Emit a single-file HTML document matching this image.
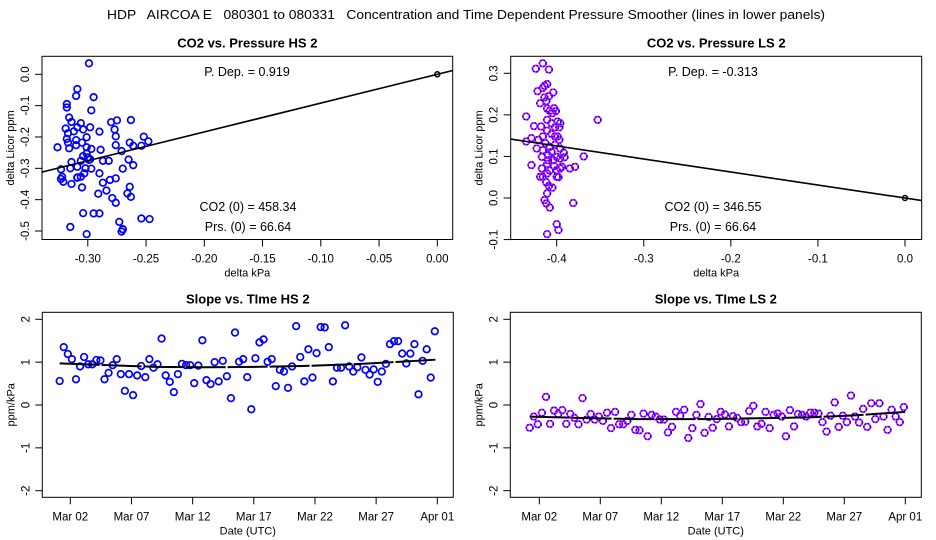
<!DOCTYPE html>
<html><head><meta charset="utf-8"><style>
body{margin:0;background:#fff}
svg{display:block;font-family:"Liberation Sans",sans-serif}
</style></head><body>
<svg id="c" width="936" height="540" viewBox="0 0 936 540" xmlns="http://www.w3.org/2000/svg">
<rect width="936" height="540" fill="#fff"/>
<text x="466" y="19" font-size="13" text-anchor="middle" style="white-space:pre" xml:space="preserve" textLength="718" lengthAdjust="spacingAndGlyphs">HDP   AIRCOA E   080301 to 080331   Concentration and Time Dependent Pressure Smoother (lines in lower panels)</text>
</svg>
<script>
// ---- data ----
const hsX=[-0.299,-0.309,-0.310,-0.295,-0.318,-0.318,-0.297,-0.316,-0.314,-0.306,-0.280,-0.275,-0.263,-0.319,-0.312,-0.309,-0.304,-0.298,-0.290,-0.277,-0.276,-0.318,-0.317,-0.310,-0.301,-0.305,-0.316,-0.310,-0.326,-0.301,-0.297,-0.276,-0.271,-0.264,-0.261,-0.252,-0.248,-0.254,-0.304,-0.300,-0.299,-0.298,-0.306,-0.314,-0.309,-0.315,-0.323,-0.302,-0.297,-0.287,-0.282,-0.265,-0.270,-0.261,-0.322,-0.323,-0.321,-0.309,-0.306,-0.303,-0.305,-0.290,-0.287,-0.281,-0.276,-0.314,-0.284,-0.291,-0.264,-0.266,-0.263,-0.279,-0.276,-0.304,-0.295,-0.290,-0.273,-0.270,-0.271,-0.270,-0.254,-0.247,-0.315,-0.301,-0.301,-0.309,-0.317,-0.289];
const hsY=[0.035,-0.047,-0.069,-0.073,-0.095,-0.106,-0.115,-0.138,-0.152,-0.156,-0.153,-0.147,-0.146,-0.173,-0.182,-0.169,-0.176,-0.169,-0.183,-0.176,-0.198,-0.206,-0.218,-0.210,-0.201,-0.218,-0.236,-0.226,-0.233,-0.233,-0.238,-0.226,-0.245,-0.218,-0.228,-0.199,-0.214,-0.228,-0.261,-0.265,-0.273,-0.271,-0.276,-0.280,-0.295,-0.300,-0.303,-0.300,-0.301,-0.276,-0.276,-0.272,-0.301,-0.290,-0.327,-0.334,-0.343,-0.330,-0.327,-0.316,-0.361,-0.316,-0.346,-0.337,-0.332,-0.350,-0.371,-0.381,-0.359,-0.380,-0.391,-0.395,-0.410,-0.443,-0.444,-0.444,-0.471,-0.495,-0.502,-0.494,-0.460,-0.462,-0.487,-0.510,-0.252,-0.329,-0.188,-0.241];
const lsX=[-0.416,-0.424,-0.409,-0.422,-0.416,-0.414,-0.411,-0.404,-0.414,-0.419,-0.412,-0.409,-0.411,-0.408,-0.405,-0.403,-0.401,-0.435,-0.353,-0.426,-0.418,-0.411,-0.406,-0.399,-0.396,-0.397,-0.402,-0.411,-0.416,-0.406,-0.399,-0.397,-0.423,-0.416,-0.408,-0.402,-0.392,-0.435,-0.429,-0.417,-0.410,-0.400,-0.396,-0.391,-0.369,-0.417,-0.411,-0.403,-0.400,-0.396,-0.394,-0.408,-0.416,-0.419,-0.429,-0.379,-0.385,-0.411,-0.400,-0.398,-0.412,-0.409,-0.405,-0.411,-0.414,-0.412,-0.408,-0.381,-0.400,-0.398,-0.411,-0.404,-0.413,-0.402,-0.406,-0.396,-0.421,-0.410];
const lsY=[0.324,0.311,0.309,0.257,0.265,0.270,0.274,0.254,0.242,0.228,0.233,0.245,0.215,0.210,0.204,0.216,0.209,0.196,0.188,0.173,0.172,0.188,0.180,0.184,0.180,0.170,0.170,0.162,0.148,0.154,0.148,0.140,0.119,0.115,0.123,0.128,0.109,0.136,0.144,0.099,0.103,0.099,0.095,0.098,0.100,0.071,0.082,0.077,0.067,0.071,0.075,0.066,0.051,0.051,0.079,0.075,0.071,0.059,0.051,0.050,0.038,0.029,0.025,0.011,-0.005,-0.013,-0.023,-0.012,-0.063,-0.077,-0.087,0.091,0.132,0.148,0.111,0.119,0.140,0.091];
const hsPDep=0.919, lsPDep=-0.313;
const hsSlope=[0.56,1.35,1.19,1.07,0.60,0.90,1.12,0.95,0.95,1.05,1.04,0.60,0.75,0.93,1.07,0.72,0.33,0.72,0.23,0.69,0.91,0.65,1.07,0.87,0.95,1.55,0.69,0.54,0.30,0.72,0.96,0.93,0.93,0.51,0.92,1.51,0.58,0.49,1.00,0.55,1.03,0.67,0.16,1.69,1.01,1.07,0.65,-0.10,1.09,1.46,1.53,1.01,1.07,0.44,0.82,0.78,0.40,0.90,1.84,1.12,0.55,1.30,0.64,1.21,1.82,1.81,1.35,0.55,0.87,0.87,1.86,0.90,0.78,0.88,1.11,0.82,0.71,0.83,0.54,0.78,0.96,1.42,1.49,1.49,1.20,0.97,1.20,1.42,0.25,1.03,1.30,0.64,1.72];
const lsSlope=[-0.53,-0.27,-0.45,-0.18,0.19,-0.44,-0.13,-0.21,-0.12,-0.44,-0.21,-0.30,-0.45,0.16,-0.34,-0.21,-0.34,-0.27,-0.37,-0.18,-0.54,-0.16,-0.45,-0.45,-0.37,-0.23,-0.58,-0.59,-0.20,-0.73,-0.23,-0.27,-0.34,-0.34,-0.64,-0.51,-0.16,-0.25,-0.11,-0.77,-0.54,-0.23,0.02,-0.65,-0.28,-0.53,-0.33,-0.16,-0.22,-0.50,-0.26,-0.30,-0.40,-0.39,-0.14,-0.02,-0.50,-0.44,-0.16,-0.54,-0.23,-0.20,-0.27,-0.73,-0.12,-0.50,-0.21,-0.23,-0.27,-0.18,-0.18,-0.20,-0.40,-0.62,-0.25,0.06,-0.51,-0.25,-0.40,0.22,-0.27,-0.41,-0.09,-0.51,0.04,-0.33,0.04,-0.27,-0.58,-0.11,-0.27,-0.40,-0.05];
const hsStart=1.13, lsStart=1.21, sampleStep=1/3;
const hsSmDays=[1.13,5,9,13,17,21,25,29,32];
const hsSmVals=[0.97,0.93,0.89,0.88,0.89,0.91,0.95,1.01,1.06];
const lsSmDays=[1.21,5,10,15,20,24,28,32];
const lsSmVals=[-0.27,-0.30,-0.33,-0.33,-0.31,-0.29,-0.24,-0.16];
const hsXTicks=[-0.30,-0.25,-0.20,-0.15,-0.10,-0.05,0.00];
const hsXTickLabels=["-0.30","-0.25","-0.20","-0.15","-0.10","-0.05","0.00"];
const hsYTicks=[0,-0.1,-0.2,-0.3,-0.4,-0.5];
const hsYTickLabels=["0.0","-0.1","-0.2","-0.3","-0.4","-0.5"];
const lsXTicks=[-0.4,-0.3,-0.2,-0.1,0.0];
const lsXTickLabels=["-0.4","-0.3","-0.2","-0.1","0.0"];
const lsYTicks=[0.3,0.2,0.1,0,-0.1];
const lsYTickLabels=["0.3","0.2","0.1","0.0","-0.1"];
const dateTicks=[2,7,12,17,22,27,32];
const dateTickLabels=["Mar 02","Mar 07","Mar 12","Mar 17","Mar 22","Mar 27","Apr 01"];
const slopeTicks=[2,1,0,-1,-2];
const slopeTickLabels=["2","1","0","-1","-2"];

const NS="http://www.w3.org/2000/svg", svg=document.getElementById('c');
function mk(tag,at,parent){const e=document.createElementNS(NS,tag);for(const k in at)e.setAttribute(k,at[k]);(parent||svg).appendChild(e);return e;}
function lin(d0,d1,p0,p1){return v=>p0+(v-d0)*(p1-p0)/(d1-d0);}

function panel(o){
  const g=mk('g',{});
  
  
  const b=mk('rect',{x:o.l,y:o.t,width:o.r-o.l,height:o.b-o.t,fill:'none',stroke:'#000','stroke-width':1},g);
  
  const t=mk('text',{x:(o.l+o.r)/2,y:o.t-9,'font-size':13,'font-weight':'bold','text-anchor':'middle'},g);t.textContent=o.title;
  
  o.xt.forEach((v,i)=>{const x=o.sx(v);
    mk('line',{x1:x,x2:x,y1:o.b,y2:o.b+7,stroke:'#000'},g);
    const l=mk('text',{x:x,y:o.b+23,'font-size':11.5,'text-anchor':'middle'},g);l.textContent=o.xl[i];
    });
  o.yt.forEach((v,i)=>{const y=o.sy(v);
    mk('line',{x1:o.l,x2:o.l-7,y1:y,y2:y,stroke:'#000'},g);
    const x=o.l-13;
    const l=mk('text',{x:x,y:y,'font-size':11.5,'text-anchor':'middle',transform:`rotate(-90 ${x} ${y})`},g);l.textContent=o.yl[i];
    });
  const xa=mk('text',{x:(o.l+o.r)/2,y:o.b+37,'font-size':11,'text-anchor':'middle'},g);xa.textContent=o.xlab;
  
  const yx=o.l-28,yy=(o.t+o.b)/2;
  const ya=mk('text',{x:yx,y:yy,'font-size':11,'text-anchor':'middle',transform:`rotate(-90 ${yx} ${yy})`},g);ya.textContent=o.ylab;
  
  const cp=mk('clipPath',{id:o.name+'-clip'},g);mk('rect',{x:o.l,y:o.t,width:o.r-o.l,height:o.b-o.t},cp);
  return mk('g',{'clip-path':`url(#${o.name}-clip)`},g);
}
function pt(g,x,y,purple){
  if(purple){
    const c=mk('circle',{cx:x,cy:y,r:3.3,fill:'none',stroke:'#ff00ff','stroke-width':1.6},g);
    
    mk('circle',{cx:x,cy:y,r:3.3,fill:'none',stroke:'#0000ff','stroke-width':1.6,'stroke-dasharray':'1.6 1.6'},g);
  }else{
    const c=mk('circle',{cx:x,cy:y,r:3.3,fill:'none',stroke:'#0000ff','stroke-width':1.7},g);
    
  }
}
function label(txt,x,y,name){const t=mk('text',{x:x,y:y,'font-size':12.5,'text-anchor':'middle'});t.textContent=txt;
  }

// Panel 1
{const sx=lin(0,-0.30,437.3,87.8), sy=lin(0,-0.5,74.3,231);
 const o={name:'hs-pressure-panel',l:42,r:452.7,t:56.3,b:239.5,sx,sy,title:'CO2 vs. Pressure HS 2',xt:hsXTicks,xl:hsXTickLabels,yt:hsYTicks,yl:hsYTickLabels,xlab:'delta kPa',ylab:'delta Licor ppm'};
 const g=panel(o);
 hsX.forEach((v,i)=>pt(g,sx(v),sy(hsY[i]),false));
 const x0=-0.36,x1=0.03;
 const fl=mk('line',{x1:sx(x0),y1:sy(hsPDep*x0),x2:sx(x1),y2:sy(hsPDep*x1),stroke:'#000','stroke-width':1.6},g);
 
 mk('circle',{cx:sx(0),cy:sy(0),r:2.5,fill:'none',stroke:'#000','stroke-width':1.5},g);
 label('P. Dep. =  0.919',247,76,'pdep-label');label('CO2 (0) =  458.34',248,211,'co2-zero-label');label('Prs. (0) =  66.64',248,231,'prs-zero-label');}
// Panel 2
{const sx=lin(0,-0.4,905,556.7), sy=lin(0,0.3,198,73.3);
 const o={name:'ls-pressure-panel',l:510.7,r:921.7,t:56.3,b:239.5,sx,sy,title:'CO2 vs. Pressure LS 2',xt:lsXTicks,xl:lsXTickLabels,yt:lsYTicks,yl:lsYTickLabels,xlab:'delta kPa',ylab:'delta Licor ppm'};
 const g=panel(o);
 lsX.forEach((v,i)=>pt(g,sx(v),sy(lsY[i]),true));
 const x0=-0.5,x1=0.03;
 const fl=mk('line',{x1:sx(x0),y1:sy(lsPDep*x0),x2:sx(x1),y2:sy(lsPDep*x1),stroke:'#000','stroke-width':1.6},g);
 
 mk('circle',{cx:sx(0),cy:sy(0),r:2.5,fill:'none',stroke:'#000','stroke-width':1.5},g);
 label('P. Dep. =  -0.313',713,76,'pdep-label');label('CO2 (0) =  346.55',713,211,'co2-zero-label');label('Prs. (0) =  66.64',713,231,'prs-zero-label');}
// Panel 3 / 4
function slopePanel(name,title,l,r,d2,d32,vals,start,smD,smV,purple){
  const sx=lin(2,32,d2,d32), sy=lin(0,2,405,319.3);
  const o={name,l,r,t:312.3,b:497.3,sx,sy,title,xt:dateTicks,xl:dateTickLabels,yt:slopeTicks,yl:slopeTickLabels,xlab:'Date (UTC)',ylab:'ppm/kPa'};
  const g=panel(o);
  vals.forEach((v,i)=>pt(g,sx(start+i*sampleStep),sy(v),purple));
  const p=mk('polyline',{points:smD.map((d,i)=>sx(d)+','+sy(smV[i])).join(' '),fill:'none',stroke:'#000','stroke-width':2,'stroke-dasharray':'40 2'},g);
  
}
slopePanel('hs-slope-panel','Slope vs. TIme HS 2',42.3,453.3,70.3,437.3,hsSlope,hsStart,hsSmDays,hsSmVals,false);
slopePanel('ls-slope-panel','Slope vs. TIme LS 2',510.3,921.3,539.3,905.3,lsSlope,lsStart,lsSmDays,lsSmVals,true);
</script>
</body></html>
